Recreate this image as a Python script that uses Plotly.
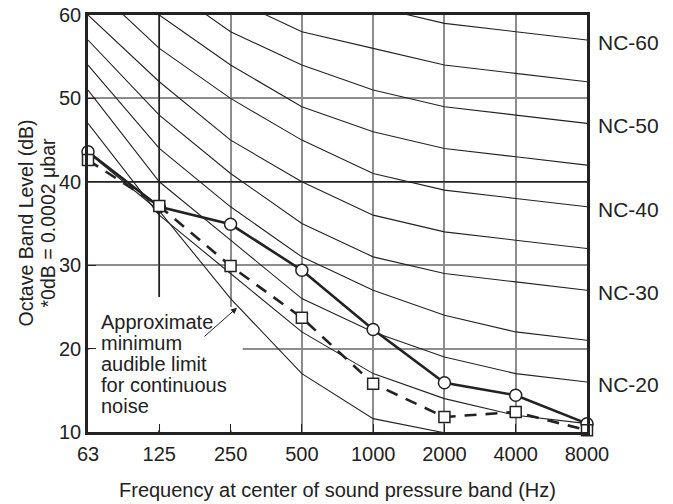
import plotly.graph_objects as go

freqs = ["63", "125", "250", "500", "1000", "2000", "4000", "8000"]

nc_names = ["NC-15", "NC-20", "NC-25", "NC-30", "NC-35", "NC-40", "NC-45", "NC-50", "NC-55", "NC-60"]
nc_15 = [47, 36, 29, 22, 17, 14, 12, 11]
nc_20 = [51, 40, 33, 26, 22, 19, 17, 16]
nc_25 = [54, 44, 37, 31, 27, 24, 22, 21]
nc_30 = [57, 48, 41, 35, 31, 29, 28, 27]
nc_35 = [60, 52, 45, 40, 36, 34, 33, 32]
nc_40 = [64, 56, 50, 45, 41, 39, 38, 37]
nc_45 = [67, 60, 54, 49, 46, 44, 43, 42]
nc_50 = [71, 64, 58, 54, 51, 49, 48, 47]
nc_55 = [74, 67, 62, 58, 56, 54, 53, 52]
nc_60 = [77, 71, 67, 63, 61, 59, 58, 57]
nc_curves = [nc_15, nc_20, nc_25, nc_30, nc_35, nc_40, nc_45, nc_50, nc_55, nc_60]
labeled_nc = ["NC-20", "NC-30", "NC-40", "NC-50", "NC-60"]

audible_limit = [43.5, 36.5, 26, 17, 11.6, 9.9, None, None]

measured_circles = [43.6, 37.0, 34.9, 29.4, 22.3, 15.9, 14.4, 11.0]
measured_squares = [42.6, 37.1, 29.9, 23.7, 15.8, 11.8, 12.4, 10.2]

note_lines = ["Approximate", "minimum", "audible limit", "for continuous", "noise"]
ytitle_lines = ["Octave Band Level (dB)", "*0dB = 0.0002 μbar"]

FONT = "Liberation Sans, Arial, sans-serif"
INK = "#222222"
GRID = "#8c8c8c"

fig = go.Figure()

for name, vals in zip(nc_names, nc_curves):
    fig.add_trace(go.Scatter(x=freqs, y=vals, mode="lines", name=name,
                             line=dict(color=INK, width=1.1), hoverinfo="skip"))

fig.add_trace(go.Scatter(x=freqs, y=audible_limit, mode="lines", name="audible",
                         line=dict(color=INK, width=1.1), connectgaps=False))

fig.add_trace(go.Scatter(x=freqs, y=measured_circles, mode="lines+markers", cliponaxis=False,
                         line=dict(color=INK, width=2.6),
                         marker=dict(symbol="circle", size=12, color="white",
                                     line=dict(color=INK, width=1.5))))
fig.add_trace(go.Scatter(x=freqs, y=measured_squares, mode="lines+markers", cliponaxis=False,
                         line=dict(color=INK, width=2.6, dash="12px,9px"),
                         marker=dict(symbol="square", size=11, color="white",
                                     line=dict(color=INK, width=1.5))))

shapes = [
    # darker grid lines
    dict(type="line", xref="x", yref="y", x0=1, x1=1, y0=10, y1=60,
         line=dict(color=INK, width=1.5), layer="between"),
    dict(type="line", xref="x", yref="y", x0=0, x1=7, y0=40, y1=40,
         line=dict(color=INK, width=1.5), layer="between"),
    # white area behind the note (hides grid, not curves)
    dict(type="rect", xref="x", yref="y", x0=0.02, x1=1.6, y0=10.2, y1=26.2,
         fillcolor="white", line=dict(width=0), layer="between"),
    dict(type="rect", xref="x", yref="y", x0=1.6, x1=2.17, y0=10.2, y1=25.0,
         fillcolor="white", line=dict(width=0), layer="between"),
]

annotations = []
# NC labels on the right, at each labeled curve's 8000 Hz level
for name, vals in zip(nc_names, nc_curves):
    if name in labeled_nc:
        annotations.append(dict(xref="paper", yref="y", x=1, y=vals[-1] - 0.3,
                                xanchor="left", yanchor="middle", xshift=9,
                                text=name, showarrow=False,
                                font=dict(family=FONT, size=21, color=INK)))
# note text, line by line
for i, line in enumerate(note_lines):
    annotations.append(dict(xref="x", yref="y", x=0, y=23.2, yshift=-21 * i,
                            xanchor="left", yanchor="middle", xshift=11,
                            text=line, showarrow=False,
                            font=dict(family=FONT, size=20, color=INK)))
# arrow toward the audible limit curve
annotations.append(dict(xref="x", yref="y", x=2.09, y=24.9, ax=-34, ay=30,
                        text="", showarrow=True, arrowhead=2, arrowsize=1.2,
                        arrowwidth=1, arrowcolor=INK))
# y axis title (two rotated lines)
for i, line in enumerate(ytitle_lines):
    annotations.append(dict(xref="paper", yref="paper", x=0, y=0.5, xshift=-63 + 22 * i,
                            xanchor="center", yanchor="middle", textangle=-90,
                            text=line, showarrow=False,
                            font=dict(family=FONT, size=19.5, color=INK)))
# x axis title
annotations.append(dict(xref="paper", yref="paper", x=0.5, y=0, yshift=-58,
                        xanchor="center", yanchor="middle",
                        text="Frequency at center of sound pressure band (Hz)",
                        showarrow=False, font=dict(family=FONT, size=20, color=INK)))

fig.update_layout(
    width=673, height=504,
    margin=dict(l=88, r=86, t=15, b=72),
    paper_bgcolor="white", plot_bgcolor="white",
    showlegend=False,
    font=dict(family=FONT, size=20, color=INK),
    shapes=shapes, annotations=annotations,
    xaxis=dict(type="category", range=[0, 7], showgrid=True, gridcolor=GRID, gridwidth=1.5,
               ticks="inside", ticklen=8, tickcolor=INK, tickwidth=1.2,
               showline=True, linecolor=INK, linewidth=2.6, mirror=True,
               zeroline=False, tickfont=dict(size=20), ticklabelstandoff=2,
               automargin=False),
    yaxis=dict(range=[10, 60], tickvals=[10, 20, 30, 40, 50, 60], showgrid=True,
               gridcolor=GRID, gridwidth=1.5,
               ticks="inside", ticklen=8, tickcolor=INK, tickwidth=1.2,
               showline=True, linecolor=INK, linewidth=2.6, mirror=True,
               zeroline=False, tickfont=dict(size=20), automargin=False),
)

fig.write_html("out.html")
